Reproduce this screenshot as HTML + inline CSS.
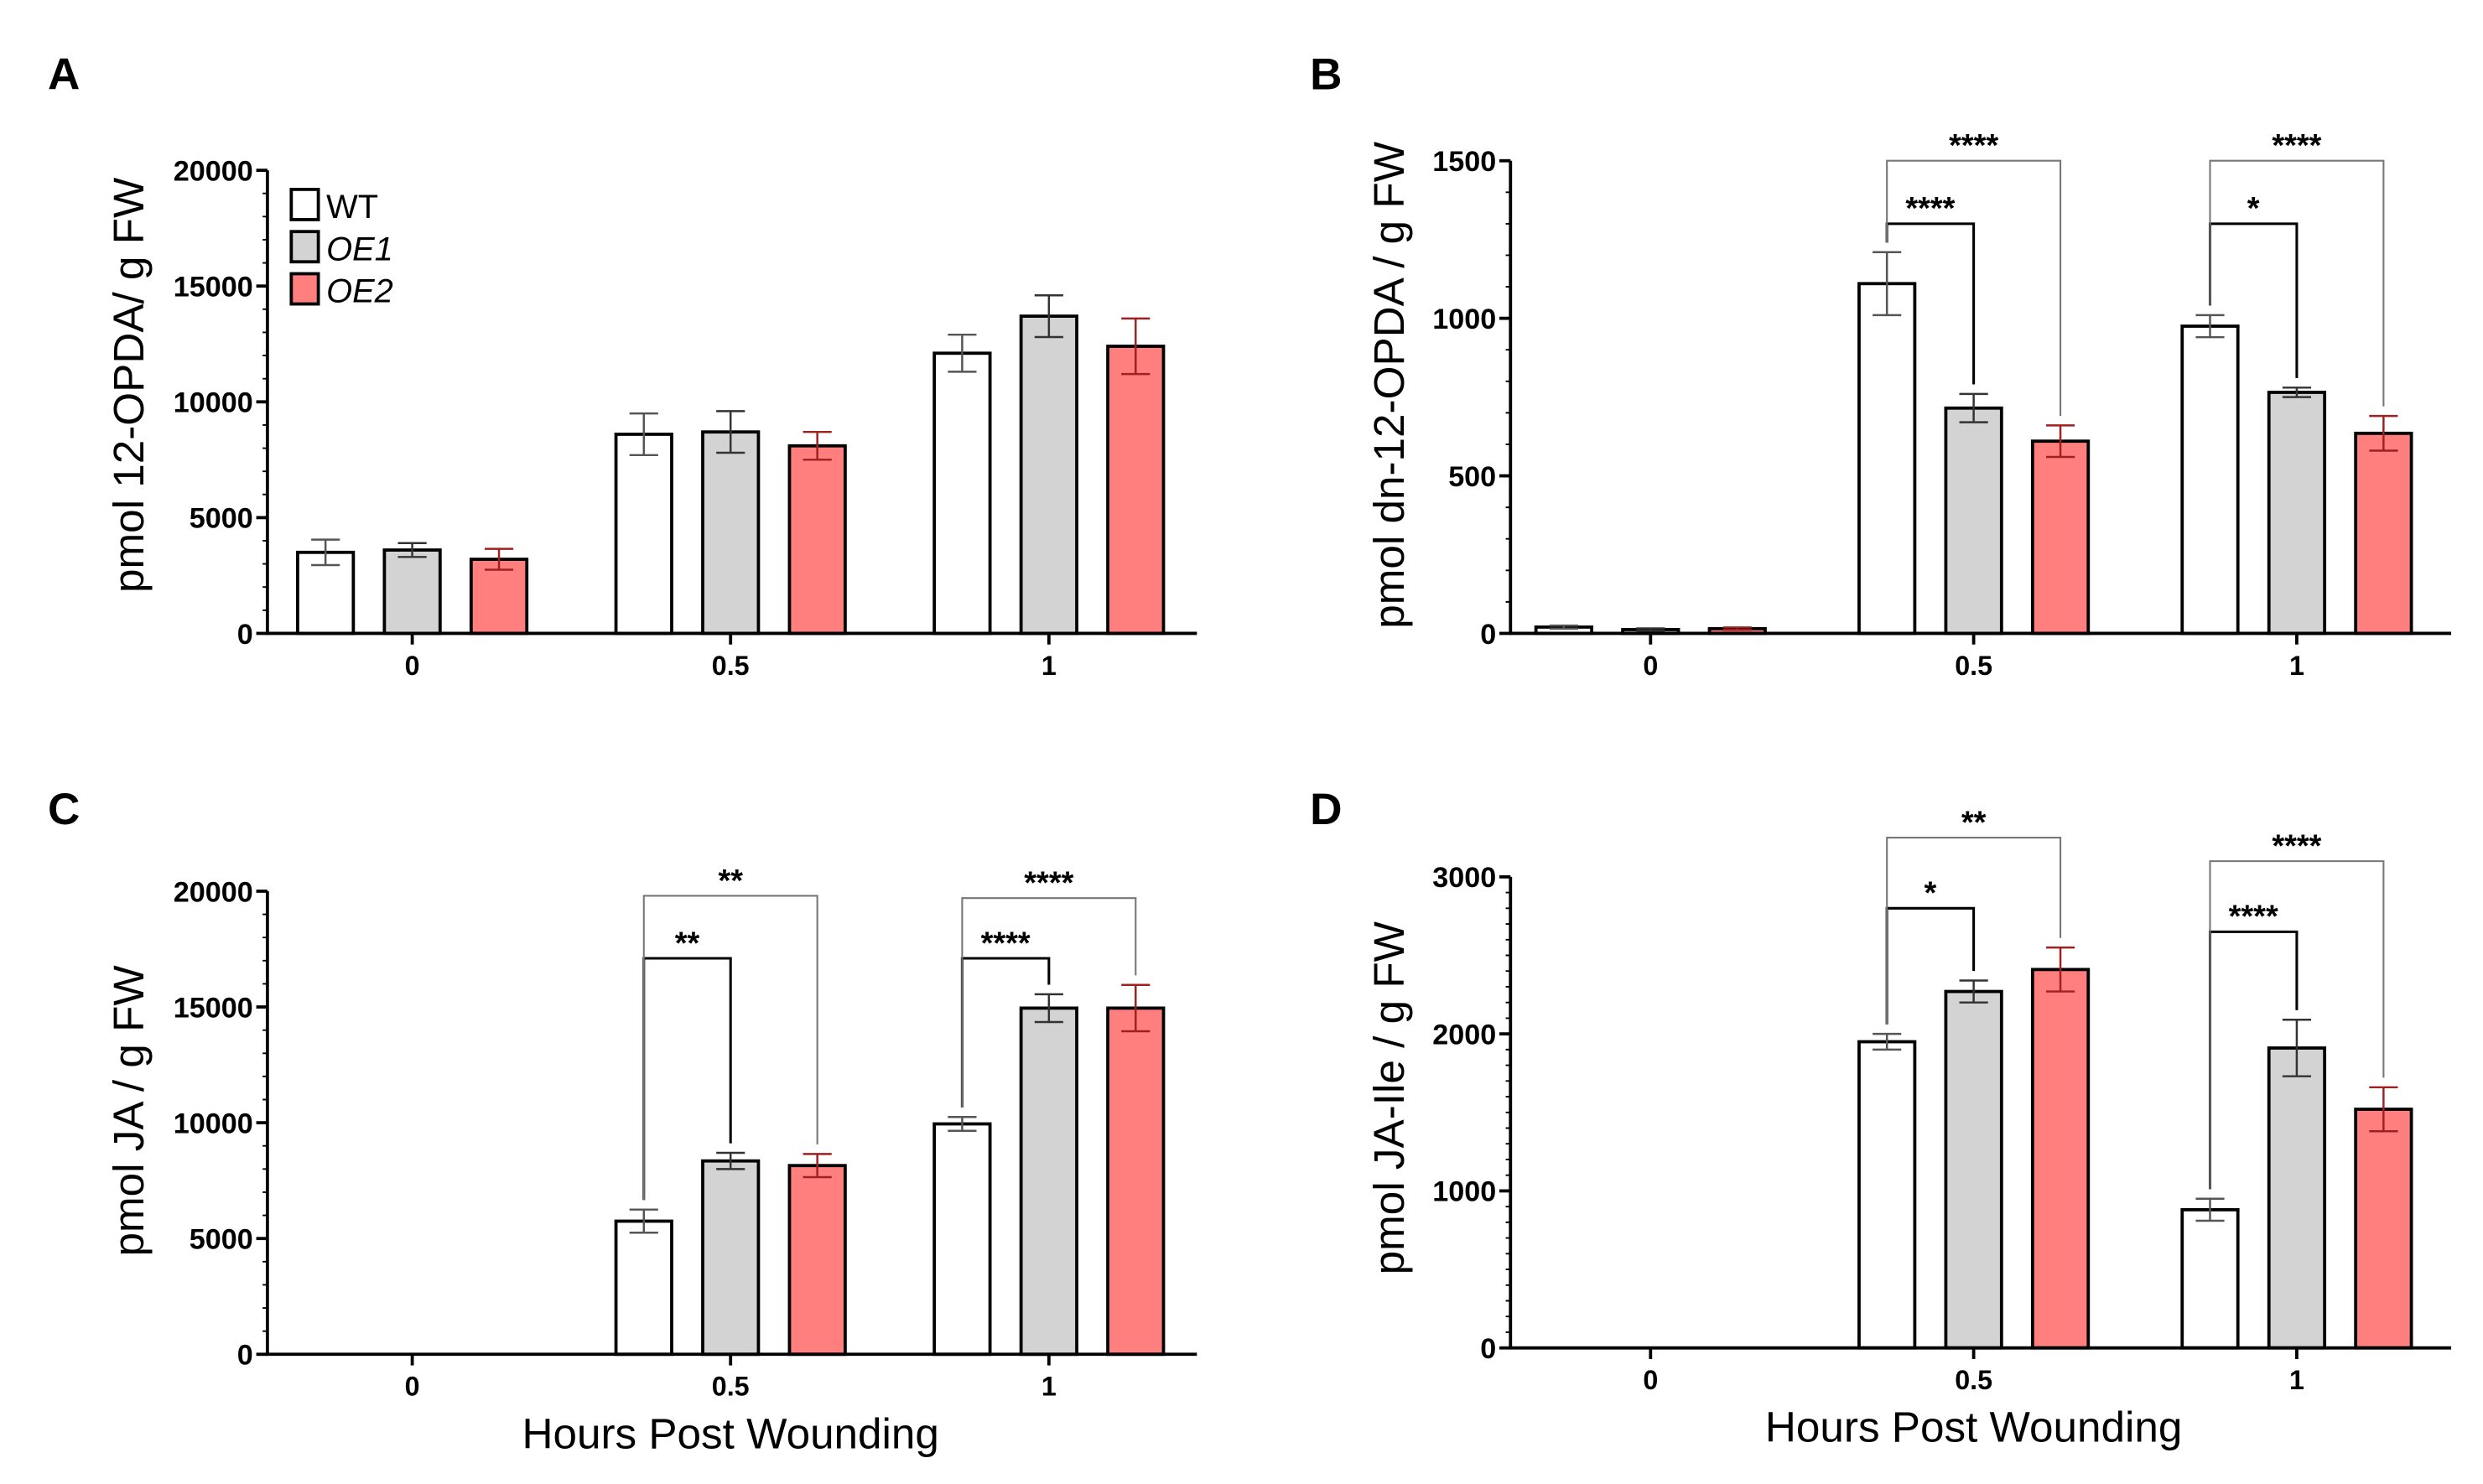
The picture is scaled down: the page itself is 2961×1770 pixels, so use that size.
<!DOCTYPE html>
<html><head><meta charset="utf-8"><style>
html,body{margin:0;padding:0;background:#fff}
svg{display:block}
text{font-family:"Liberation Sans",Arial,sans-serif}
</style></head><body>
<svg id="fig" width="2961" height="1770" viewBox="0 0 1560 932.5" xmlns="http://www.w3.org/2000/svg"></svg>
<script>
// ---- data ----
const categories = ["0", "0.5", "1"];
const seriesNames = ["WT", "OE1", "OE2"];
const aVals = [[3500, 3600, 3200], [8600, 8700, 8100], [12100, 13700, 12400]];
const aErr  = [[550, 300, 450], [900, 900, 600], [800, 900, 1200]];
const bVals = [[20, 12, 15], [1110, 715, 610], [975, 765, 635]];
const bErr  = [[5, 4, 4], [100, 45, 50], [35, 15, 55]];
const cVals = [[0, 0, 0], [5750, 8350, 8150], [9950, 14950, 14950]];
const cErr  = [[0, 0, 0], [500, 350, 500], [300, 600, 1000]];
const dVals = [[0, 0, 0], [1950, 2270, 2410], [880, 1910, 1520]];
const dErr  = [[0, 0, 0], [50, 70, 140], [70, 180, 140]];
const aTicks = [0, 5000, 10000, 15000, 20000];
const bTicks = [0, 500, 1000, 1500];
const cTicks = [0, 5000, 10000, 15000, 20000];
const dTicks = [0, 1000, 2000, 3000];
// significance: [category index, comparison series index, bracket value level, label]
const bSig = [[1, 1, 1300, "****"], [1, 2, 1500, "****"], [2, 1, 1300, "*"], [2, 2, 1500, "****"]];
const cSig = [[1, 1, 17100, "**"], [1, 2, 19800, "**"], [2, 1, 17100, "****"], [2, 2, 19700, "****"]];
const dSig = [[1, 1, 2800, "*"], [1, 2, 3250, "**"], [2, 1, 2650, "****"], [2, 2, 3100, "****"]];

const NS = "http://www.w3.org/2000/svg";
const svg = document.getElementById("fig");
function mk(tag, attrs, parent) {
  const e = document.createElementNS(NS, tag);
  for (const k in attrs) e.setAttribute(k, attrs[k]);
  (parent || svg).appendChild(e);
  return e;
}
const fills = ["#ffffff", "#d3d3d3", "#ff7f7f"];

function panel(cfg) {
  const g = mk("g", {});
  
  
  const y = v => cfg.y0 - (v / cfg.max) * (cfg.y0 - cfg.yTop);
  const catX = i => cfg.cx0 + i * cfg.cstep;
  const L = mk("text", {x: cfg.lx, y: cfg.ly, "font-size": 28, "font-weight": "bold"}, g);
  L.textContent = cfg.letter;
  
  
  for (let c = 0; c < categories.length; c++) {
    for (let s = 0; s < 3; s++) {
      const v = cfg.vals[c][s];
      if (v <= 0) continue;
      const cx = catX(c) + (s - 1) * 54.5;
      const r = mk("rect", {x: cx - 17.5, y: y(v), width: 35, height: cfg.y0 - y(v), fill: fills[s], stroke: "#000", "stroke-width": 2}, g);
      
      
      const e = cfg.err[c][s];
      const ecol = s === 1 ? "#333" : (s === 2 ? "#a02020" : "#555");
      const eb = mk("path", {d: `M${cx},${y(v + e)}V${y(v - e)}M${cx - 9},${y(v + e)}H${cx + 9}M${cx - 9},${y(v - e)}H${cx + 9}`, stroke: ecol, "stroke-width": 1.3, fill: "none"}, g);
      
      
    }
  }
  const ax = mk("path", {d: `M${cfg.x0},${cfg.yTop}V${cfg.y0}H${cfg.xEnd}`, stroke: "#000", "stroke-width": 2, fill: "none"}, g);
  
  
  let md = "";
  for (let v = 0; v <= cfg.max + 1e-6; v += cfg.minor) md += `M${cfg.x0 - 3},${y(v)}H${cfg.x0}`;
  mk("path", {d: md, stroke: "#000", "stroke-width": 1}, g);
  cfg.ticks.forEach(t => {
    mk("path", {d: `M${cfg.x0 - 7},${y(t)}H${cfg.x0}`, stroke: "#000", "stroke-width": 2}, g);
    const tx = mk("text", {x: cfg.x0 - 9, y: y(t) + 6.5, "font-size": 18, "font-weight": "bold", "text-anchor": "end"}, g);
    tx.textContent = t;
    
    
  });
  categories.forEach((c, i) => {
    mk("path", {d: `M${catX(i)},${cfg.y0}v7`, stroke: "#000", "stroke-width": 2}, g);
    const tx = mk("text", {x: catX(i), y: cfg.y0 + 26, "font-size": 17, "font-weight": "bold", "text-anchor": "middle"}, g);
    tx.textContent = c;
    
    
  });
  const yt = mk("text", {x: 0, y: 0, "font-size": 27, "text-anchor": "middle", transform: `translate(${cfg.ytx},${cfg.yty}) rotate(-90)`}, g);
  yt.textContent = cfg.ytitle;
  
  
  if (cfg.xtitle) {
    const xt = mk("text", {x: catX(1), y: cfg.y0 + 59, "font-size": 27, "text-anchor": "middle"}, g);
    xt.textContent = cfg.xtitle;
    
    
  }
  (cfg.sig || []).forEach(sg => {
    const [c, s, lvl, lab] = sg;
    const x1 = catX(c) - 54.5, x2 = catX(c) + (s - 1) * 54.5;
    const yb = y(lvl);
    const yl = y(cfg.vals[c][0] + cfg.err[c][0]) - 6;
    const yr = y(cfg.vals[c][s] + cfg.err[c][s]) - 6;
    const p = mk("path", {d: `M${x1},${yl}V${yb}H${x2}V${yr}`, stroke: s === 1 ? "#000" : "#777", "stroke-width": s === 1 ? 1.6 : 1.1, fill: "none"}, g);
    
    
    const t = mk("text", {x: (x1 + x2) / 2, y: yb - 3, "font-size": 20, "font-weight": "bold", "text-anchor": "middle"}, g);
    t.textContent = lab;
    
    
  });
  return g;
}

panel({name: "panel-a", letter: "A", lx: 30, ly: 56, vals: aVals, err: aErr, max: 20000, ticks: aTicks, minor: 1000,
  x0: 168, xEnd: 752, y0: 398, yTop: 107, cx0: 259, cstep: 200, ytitle: "pmol 12-OPDA/ g FW", ytx: 90, yty: 242});
panel({name: "panel-b", letter: "B", lx: 823, ly: 56, vals: bVals, err: bErr, max: 1500, ticks: bTicks, minor: 100,
  x0: 949, xEnd: 1540, y0: 398, yTop: 101, cx0: 1037, cstep: 203, ytitle: "pmol dn-12-OPDA / g FW", ytx: 882, yty: 242, sig: bSig});
panel({name: "panel-c", letter: "C", lx: 30, ly: 518, vals: cVals, err: cErr, max: 20000, ticks: cTicks, minor: 1000,
  x0: 168, xEnd: 752, y0: 851, yTop: 560, cx0: 259, cstep: 200, ytitle: "pmol JA / g FW", ytx: 90, yty: 698, sig: cSig, xtitle: "Hours Post Wounding"});
panel({name: "panel-d", letter: "D", lx: 823, ly: 518, vals: dVals, err: dErr, max: 3000, ticks: dTicks, minor: 100,
  x0: 949, xEnd: 1540, y0: 847, yTop: 551, cx0: 1037, cstep: 203, ytitle: "pmol JA-Ile / g FW", ytx: 882, yty: 690, sig: dSig, xtitle: "Hours Post Wounding"});

const lg = mk("g", {});


seriesNames.forEach((n, i) => {
  const yy = 119 + i * 26.5;
  const r = mk("rect", {x: 183, y: yy, width: 17, height: 19, fill: fills[i], stroke: "#000", "stroke-width": 2}, lg);
  
  
  const t = mk("text", {x: 205, y: yy + 18, "font-size": 21, "font-style": i ? "italic" : "normal"}, lg);
  t.textContent = n;
  
  
});
</script>
</body></html>
